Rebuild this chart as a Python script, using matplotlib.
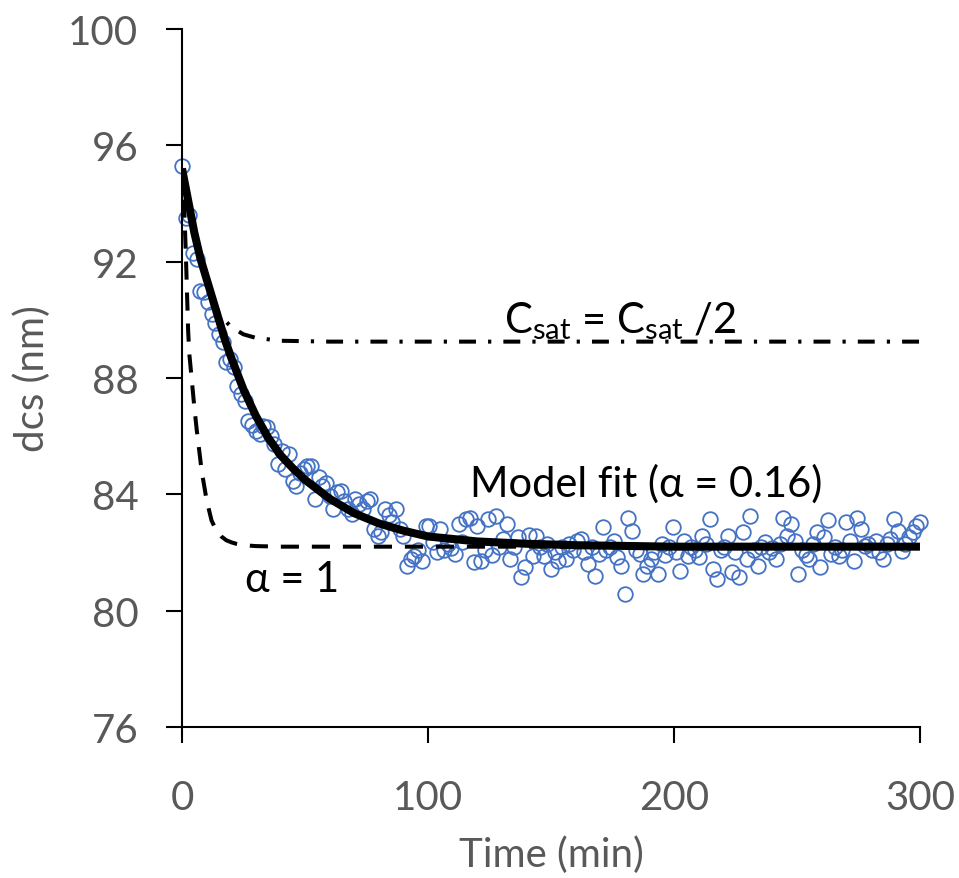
import numpy as np
import matplotlib
matplotlib.use("Agg")
import matplotlib.pyplot as plt

plt.rcParams['font.family'] = ['Lato', 'DejaVu Sans']

# measured particle size, one reading every 1.5 min from 0 to 300 min
time = np.arange(0, 300.1, 1.5)
dcs = [
    # 0 - 60 min
    95.3, 93.5, 93.6, 92.3, 92.1, 91.0, 90.95, 90.6, 90.2, 89.9,
    89.5, 89.25, 88.55, 88.65, 88.38, 87.72, 87.45, 87.22, 86.53, 86.4,
    86.19, 86.07, 86.36, 86.3, 86.02, 85.73, 85.04, 85.5, 84.87, 85.39,
    84.47, 84.3, 84.75, 84.87, 84.98, 84.97, 83.84, 84.6, 84.3, 84.4,
    83.95,
    # 61.5 - 120 min
    83.5, 84.08, 84.1, 83.77, 83.5, 83.32, 83.84, 83.67, 83.5, 83.77,
    83.84, 82.8, 82.57, 82.7, 83.5, 83.3, 83.05, 83.5, 82.8, 82.57,
    81.53, 81.77, 81.88, 82.1, 81.7, 82.9, 82.9, 82.36, 82.0, 82.8,
    82.1, 82.3, 82.15, 81.95, 82.98, 82.36, 83.15, 83.2, 81.67, 82.9,
    # 121.5 - 180 min
    81.7, 82.1, 83.15, 81.9, 83.26, 82.2, 82.46, 82.98, 81.77, 82.2,
    82.53, 81.15, 81.5, 82.6, 81.88, 82.57, 82.2, 81.88, 82.3, 81.43,
    82.0, 81.7, 82.2, 81.77, 82.3, 82.1, 82.4, 82.46, 82.0, 81.6,
    82.2, 81.2, 81.94, 82.88, 82.1, 82.2, 82.4, 81.85, 81.53, 80.57,
    # 181.5 - 240 min
    83.2, 82.74, 82.1, 81.94, 81.26, 81.53, 81.77, 82.0, 81.26, 82.3,
    81.9, 82.2, 82.88, 82.0, 81.36, 82.4, 81.88, 82.2, 82.1, 81.85,
    82.57, 82.3, 83.15, 81.43, 81.1, 82.1, 82.2, 82.57, 81.33, 82.0,
    81.15, 82.7, 81.77, 83.26, 82.1, 81.53, 82.2, 82.36, 82.0, 82.15,
    # 241.5 - 300 min
    81.77, 82.3, 83.2, 82.57, 82.98, 82.4, 81.26, 82.1, 81.9, 81.77,
    82.3, 82.7, 81.5, 82.53, 83.1, 81.94, 82.2, 81.88, 82.1, 83.05,
    82.4, 81.7, 83.2, 82.8, 82.22, 82.3, 82.1, 82.4, 82.0, 81.77,
    82.3, 82.46, 83.15, 82.74, 82.05, 82.3, 82.53, 82.7, 82.9, 83.05,
]

# model fit (alpha = 0.16)
fit_t = [0, 2.5, 5, 7.5, 10, 12.5, 15, 17.5, 20, 25, 30, 35, 40, 45, 50,
         60, 70, 80, 90, 100, 120, 140, 160, 200, 250, 300]
fit_y = [95.2, 94.1, 93.0, 92.1, 91.4, 90.7, 90.0, 89.3, 88.7, 87.6, 86.7,
         85.95, 85.35, 84.9, 84.5, 83.85, 83.35, 83.0, 82.75, 82.55, 82.38,
         82.3, 82.25, 82.2, 82.2, 82.2]

# alpha = 1
a1_t = [0, 0.5, 1, 1.5, 2, 2.5, 3, 4, 5, 6, 7, 8, 10, 12, 14, 16, 18, 20,
        22, 25, 30, 40, 60, 120, 300]
a1_y = [95.2, 94.6, 93.6, 92.4, 91.0, 89.6, 88.8, 87.9, 87.0, 86.2, 85.5,
        84.8, 83.8, 83.1, 82.75, 82.55, 82.42, 82.35, 82.3, 82.25, 82.22,
        82.2, 82.2, 82.2, 82.2]

# Csat = Csat/2
half_t = [0, 5, 10, 15, 20, 25, 30, 40, 60, 100, 300]
half_y = [95.2, 93.0, 91.4, 90.2, 89.75, 89.5, 89.38, 89.28, 89.25, 89.25, 89.25]

fig = plt.figure(figsize=(9.59, 8.79), dpi=100)
ax = fig.add_axes([0.1898, 0.1718, 0.7695, 0.7941])

ax.plot(time, dcs, linestyle="none", marker="o", markersize=10.5,
        markerfacecolor="none", markeredgecolor="#4472C4", markeredgewidth=1.3,
        clip_on=False, zorder=2)
ax.plot(a1_t, a1_y, color="black", lw=2.9, linestyle=(0, (4.5, 3.2)), zorder=3)
ax.plot(half_t, half_y, color="black", lw=2.9,
        linestyle=(0, (4.2, 3.0, 0.8, 3.0)), zorder=3)
ax.plot(fit_t, fit_y, color="black", lw=5.8, solid_capstyle="butt", zorder=4)

# curve labels
ax.text(117, 84.4, "Model fit (α = 0.16)", fontsize=30, color="black",
        va="center", ha="left")
ax.text(25.5, 81.1, "α = 1", fontsize=30, color="black", va="center", ha="left")
ax.text(131, 89.58, r"C$_{\mathregular{sat}}$ = C$_{\mathregular{sat}}$ /2",
        fontsize=30, color="black", va="baseline", ha="left")

ax.set_xlim(0, 300)
ax.set_ylim(76, 100)
ax.set_xticks([0, 100, 200, 300])
ax.set_yticks([76, 80, 84, 88, 92, 96, 100])
for s in ["top", "right"]:
    ax.spines[s].set_visible(False)
for s in ["left", "bottom"]:
    ax.spines[s].set_linewidth(1.5)
ax.tick_params(axis="both", direction="out", length=11.5, width=1.5,
               labelsize=29, labelcolor="#595959")
ax.tick_params(axis="x", pad=26)
ax.tick_params(axis="y", pad=20)
ax.set_xlabel("Time (min)", fontsize=29, color="#595959", labelpad=14)
ax.set_ylabel("dcs (nm)", fontsize=29, color="#595959", labelpad=12)

fig.savefig("out.png", dpi=100)
